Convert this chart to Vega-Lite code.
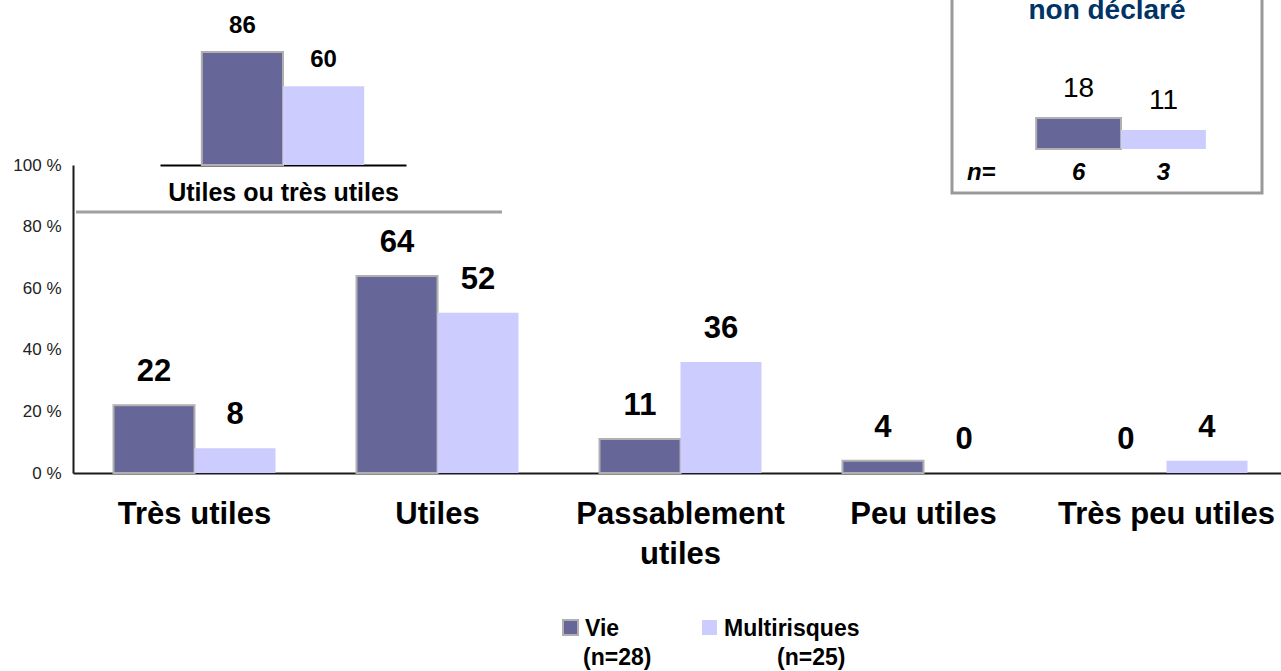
{
  "$schema": "https://vega.github.io/schema/vega-lite/v6.json",
  "width": 1208,
  "height": 308,
  "autosize": {"type": "none"},
  "padding": {"left": 73, "top": 165, "right": 0, "bottom": 198},
  "background": "white",
  "config": {"view": {"stroke": null}, "font": "Liberation Sans"},
  "layer": [
    {
      "data": {"values": [
        {"cat": "Très utiles", "serie": "Vie", "val": 22},
        {"cat": "Très utiles", "serie": "Multirisques", "val": 8},
        {"cat": "Utiles", "serie": "Vie", "val": 64},
        {"cat": "Utiles", "serie": "Multirisques", "val": 52},
        {"cat": "Passablement utiles", "serie": "Vie", "val": 11},
        {"cat": "Passablement utiles", "serie": "Multirisques", "val": 36},
        {"cat": "Peu utiles", "serie": "Vie", "val": 4},
        {"cat": "Peu utiles", "serie": "Multirisques", "val": 0},
        {"cat": "Très peu utiles", "serie": "Vie", "val": 0},
        {"cat": "Très peu utiles", "serie": "Multirisques", "val": 4}
      ]},
      "encoding": {
        "x": {
          "field": "cat", "type": "nominal",
          "sort": ["Très utiles", "Utiles", "Passablement utiles", "Peu utiles", "Très peu utiles"],
          "scale": {"range": [0, 1215], "paddingInner": 0.33333, "paddingOuter": 0.166667},
          "axis": {
            "orient": "bottom", "title": null, "domainColor": "#1a1a1a", "domainWidth": 2,
            "ticks": false, "labelAngle": 0, "labelFont": "Liberation Sans", "labelFontSize": 31,
            "labelFontWeight": "bold", "labelColor": "black", "labelPadding": 26,
            "labelLineHeight": 40, "labelLimit": 400, "labelOverlap": false, "labelBaseline": "top",
            "labelExpr": "datum.value == 'Passablement utiles' ? ['Passablement', 'utiles'] : datum.value"
          }
        },
        "xOffset": {"field": "serie", "type": "nominal", "sort": ["Vie", "Multirisques"], "scale": {"paddingInner": 0, "paddingOuter": 0}},
        "y": {
          "field": "val", "type": "quantitative",
          "scale": {"domain": [0, 100], "nice": false},
          "axis": {
            "title": null, "values": [0, 20, 40, 60, 80, 100], "labelExpr": "datum.value + ' %'",
            "grid": false, "ticks": false, "domainColor": "#1a1a1a", "domainWidth": 2,
            "labelFont": "Liberation Sans", "labelFontSize": 17, "labelColor": "#222222", "labelPadding": 12
          }
        }
      },
      "layer": [
        {
          "mark": {"type": "bar", "strokeWidth": 2},
          "encoding": {
            "color": {
              "field": "serie", "type": "nominal",
              "scale": {"domain": ["Vie", "Multirisques"], "range": ["#666699", "#ccccff"]},
              "legend": null
            },
            "stroke": {"condition": {"test": "datum.serie === 'Vie' && datum.val > 0", "value": "#b0b0b0"}, "value": "transparent"}
          }
        },
        {
          "mark": {"type": "text", "font": "Liberation Sans", "fontSize": 31, "fontWeight": "bold", "baseline": "alphabetic", "dy": -24, "color": "black"},
          "encoding": {"text": {"field": "val", "type": "quantitative"}}
        }
      ]
    },
    {
      "data": {"values": [{"part": "séparateur"}]},
      "mark": {"type": "rule", "color": "#a0a0a0", "strokeWidth": 3},
      "encoding": {
        "x": {"datum": 0, "type": "quantitative", "scale": {"domain": [0, 1], "range": [3, 429]}, "axis": null},
        "x2": {"datum": 1},
        "y": {"datum": 0, "type": "quantitative", "scale": {"domain": [0, 1], "range": [47, 0]}, "axis": null}
      }
    },
    {
      "data": {"values": [
        {"serie": "Vie", "val": 86},
        {"serie": "Multirisques", "val": 60}
      ]},
      "encoding": {
        "x": {
          "field": "serie", "type": "nominal", "sort": ["Vie", "Multirisques"],
          "scale": {"range": [87, 333], "paddingInner": 0, "paddingOuter": 0.515},
          "axis": {
            "orient": "top", "labels": false, "ticks": false, "grid": false,
            "domainColor": "black", "domainWidth": 2,
            "title": "Utiles ou très utiles", "titleFont": "Liberation Sans", "titleFontSize": 25,
            "titleFontWeight": "bold", "titleColor": "black", "titleY": 35, "titleBaseline": "alphabetic"
          }
        },
        "y": {"field": "val", "type": "quantitative", "scale": {"domain": [0, 100], "range": [0, -131.4], "nice": false}, "axis": null}
      },
      "layer": [
        {
          "mark": {"type": "bar", "strokeWidth": 2},
          "encoding": {
            "color": {"field": "serie", "type": "nominal"},
            "stroke": {"condition": {"test": "datum.serie === 'Vie'", "value": "#b0b0b0"}, "value": "transparent"}
          }
        },
        {
          "mark": {"type": "text", "font": "Liberation Sans", "fontSize": 24, "fontWeight": "bold", "baseline": "alphabetic", "dy": -19, "color": "black"},
          "encoding": {"text": {"field": "val", "type": "quantitative"}}
        }
      ]
    },
    {
      "data": {"values": [{"titre": "non déclaré", "rang": "n="}]},
      "encoding": {
        "x": {"datum": 0, "type": "quantitative", "scale": {"domain": [0, 1], "range": [879, 1189]}, "axis": null},
        "y": {"datum": 0, "type": "quantitative", "scale": {"domain": [0, 1], "range": [28, -175]}, "axis": null}
      },
      "layer": [
        {
          "mark": {"type": "rect", "fill": "white", "stroke": "#999999", "strokeWidth": 3},
          "encoding": {"x2": {"datum": 1}, "y2": {"datum": 1}}
        },
        {
          "mark": {"type": "text", "font": "Liberation Sans", "fontSize": 28, "fontWeight": "bold", "color": "#003366", "align": "center", "baseline": "alphabetic"},
          "encoding": {
            "x": {"datum": 0.5, "type": "quantitative"},
            "y": {"datum": 0.857, "type": "quantitative"},
            "text": {"field": "titre"}
          }
        },
        {
          "mark": {"type": "text", "font": "Liberation Sans", "fontSize": 24, "fontWeight": "bold", "fontStyle": "italic", "color": "black", "align": "left", "baseline": "alphabetic"},
          "encoding": {
            "x": {"datum": 0.048, "type": "quantitative"},
            "y": {"datum": 0.064, "type": "quantitative"},
            "text": {"field": "rang"}
          }
        }
      ]
    },
    {
      "data": {"values": [
        {"serie": "Vie", "val": 18, "n": 6},
        {"serie": "Multirisques", "val": 11, "n": 3}
      ]},
      "encoding": {
        "x": {
          "field": "serie", "type": "nominal", "sort": ["Vie", "Multirisques"],
          "scale": {"range": [919, 1177], "paddingInner": 0, "paddingOuter": 0.52},
          "axis": {"orient": "top", "offset": 16, "labels": false, "ticks": false, "grid": false, "title": null, "domainColor": "black", "domainWidth": 2}
        },
        "y": {"field": "val", "type": "quantitative", "scale": {"domain": [0, 100], "range": [-16, -188], "nice": false}, "axis": null}
      },
      "layer": [
        {
          "mark": {"type": "bar", "strokeWidth": 2},
          "encoding": {
            "color": {"field": "serie", "type": "nominal"},
            "stroke": {"condition": {"test": "datum.serie === 'Vie'", "value": "#b0b0b0"}, "value": "transparent"}
          }
        },
        {
          "mark": {"type": "text", "font": "Liberation Sans", "fontSize": 28, "fontWeight": "normal", "baseline": "alphabetic", "dy": -21, "color": "black"},
          "encoding": {"text": {"field": "val", "type": "quantitative"}}
        },
        {
          "mark": {"type": "text", "font": "Liberation Sans", "fontSize": 24, "fontWeight": "bold", "fontStyle": "italic", "baseline": "alphabetic", "dy": 31, "color": "black"},
          "encoding": {
            "y": {"datum": 0, "type": "quantitative"},
            "text": {"field": "n", "type": "quantitative"}
          }
        }
      ]
    },
    {
      "data": {"values": [
        {"serie": "Vie", "ligne1": "Vie", "ligne2": "(n=28)"},
        {"serie": "Multirisques", "ligne1": "Multirisques", "ligne2": "(n=25)"}
      ]},
      "encoding": {
        "x": {
          "field": "serie", "type": "nominal", "sort": ["Vie", "Multirisques"],
          "scale": {"range": [428, 706], "paddingInner": 0, "paddingOuter": 0},
          "axis": null
        },
        "y": {"datum": 0, "type": "quantitative", "scale": {"domain": [0, 1], "range": [462.5, 0]}, "axis": null}
      },
      "layer": [
        {
          "mark": {"type": "square", "size": 225, "filled": true, "opacity": 1, "strokeWidth": 2},
          "encoding": {
            "color": {"field": "serie", "type": "nominal"},
            "stroke": {"condition": {"test": "datum.serie === 'Vie'", "value": "#b0b0b0"}, "value": "transparent"}
          }
        },
        {
          "mark": {"type": "text", "font": "Liberation Sans", "fontSize": 23, "fontWeight": "bold", "color": "black", "align": "left", "baseline": "alphabetic", "dx": 14.5, "dy": 8.5},
          "encoding": {"text": {"field": "ligne1"}}
        },
        {
          "transform": [{"filter": "datum.serie === 'Vie'"}],
          "mark": {"type": "text", "font": "Liberation Sans", "fontSize": 23, "fontWeight": "bold", "color": "black", "align": "left", "baseline": "alphabetic", "dx": 12.5, "dy": 37.5},
          "encoding": {"text": {"field": "ligne2"}}
        },
        {
          "transform": [{"filter": "datum.serie === 'Multirisques'"}],
          "mark": {"type": "text", "font": "Liberation Sans", "fontSize": 23, "fontWeight": "bold", "color": "black", "align": "left", "baseline": "alphabetic", "dx": 67.5, "dy": 37.5},
          "encoding": {"text": {"field": "ligne2"}}
        }
      ]
    }
  ],
  "resolve": {"scale": {"x": "independent", "y": "independent"}}
}
